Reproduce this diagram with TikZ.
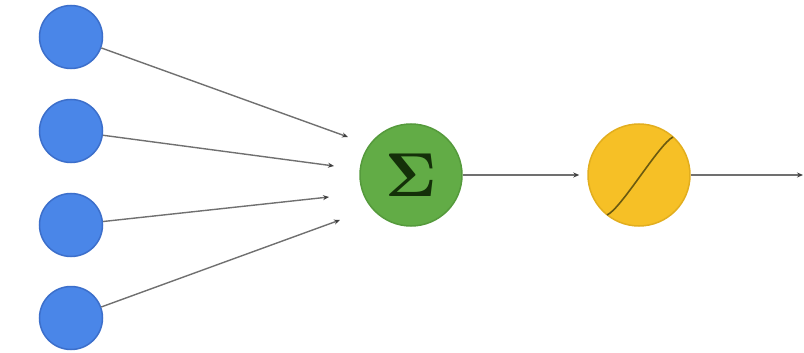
\documentclass[tikz,border=0pt]{standalone}
\usepackage{graphicx}
\usetikzlibrary{arrows.meta}
\definecolor{inblue}{HTML}{4A86E8}
\definecolor{inblueedge}{HTML}{3C6FCB}
\definecolor{sumgreen}{HTML}{62AC46}
\definecolor{sumgreenedge}{HTML}{559A3C}
\definecolor{actyellow}{HTML}{F6C026}
\definecolor{actyellowedge}{HTML}{E2AE1E}
\definecolor{wire}{HTML}{707070}
\definecolor{curve}{HTML}{6B5A10}
\definecolor{sigmacol}{HTML}{143009}
\begin{document}
\begin{tikzpicture}[x=1pt,y=-1pt,
  inputnode/.style={circle,fill=inblue,draw=inblueedge,line width=1.5pt,minimum size=63pt,inner sep=0pt},
  sumnode/.style={circle,fill=sumgreen,draw=sumgreenedge,line width=1.5pt,minimum size=102pt,inner sep=0pt,text=sigmacol},
  actnode/.style={circle,fill=actyellow,draw=actyellowedge,line width=1.5pt,minimum size=102pt,inner sep=0pt},
  wirearrow/.style={draw=wire,line width=1.4pt,-{Stealth[length=6pt,width=5pt,color=black!75]}}
]
\useasboundingbox (0,0) rectangle (804,353);
\node[inputnode] (i1) at (71,37) {};
\node[inputnode] (i2) at (71,131) {};
\node[inputnode] (i3) at (71,225) {};
\node[inputnode] (i4) at (71,318) {};
\node[sumnode] (sum) at (411,175) {\scalebox{6.2}{$\mathbf{\Sigma}$}};
\node[actnode] (act) at (639,175) {};
\coordinate (e1) at (348,137);
\coordinate (e2) at (334,166);
\coordinate (e3) at (329,197);
\coordinate (e4) at (340,220);
\coordinate (out) at (803,175);
\draw[wirearrow] (i1) -- (e1);
\draw[wirearrow] (i2) -- (e2);
\draw[wirearrow] (i3) -- (e3);
\draw[wirearrow] (i4) -- (e4);
\draw[wirearrow] (sum) -- ([xshift=-8pt]act.west);
\draw[wirearrow] (act) -- (out);
\draw[curve,line width=1.6pt] (607,215) .. controls (621,209) and (659,144) .. (673,137);
\end{tikzpicture}
\end{document}
